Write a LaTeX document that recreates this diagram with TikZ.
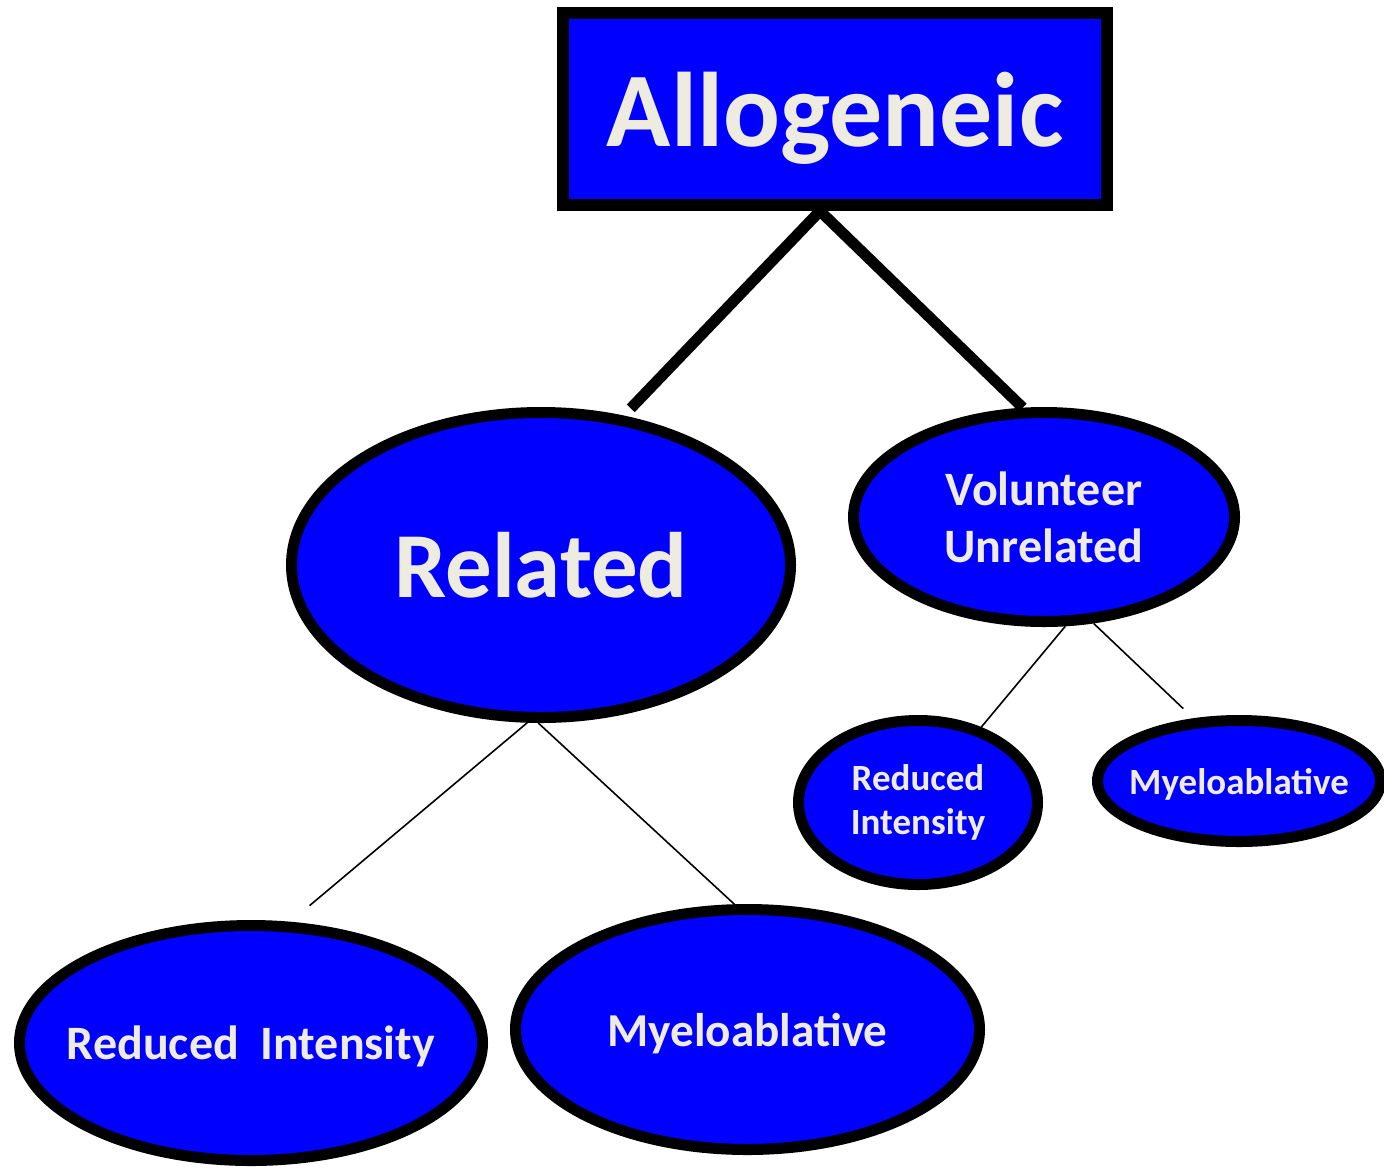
\documentclass[tikz,border=0pt]{standalone}
\usepackage{fontspec}
\setmainfont{Carlito}
\usetikzlibrary{shapes.geometric}

\definecolor{boxblue}{RGB}{0,0,255}
\definecolor{cream}{HTML}{EEECE1}

\begin{document}
\begin{tikzpicture}[x=0.5pt,y=-0.5pt,-]
    \tikzstyle{oval}=[ellipse,draw=black,fill=boxblue,line width=5.5pt,inner sep=0pt,text=cream,align=center]
    \tikzstyle{trunk}=[line width=5.5pt]
    \tikzstyle{branch}=[line width=0.8pt]

    \fill[white] (0,0) rectangle (1384,1167);
    \useasboundingbox (0,0) rectangle (1384,1167);

    \node[rectangle,draw=black,fill=boxblue,line width=6pt,minimum width=272pt,minimum height=96pt,inner sep=0pt,text depth=0pt,text=cream,font=\bfseries\fontsize{53}{60}\selectfont] (allo) at (835,109) {Allogeneic};

    \node[oval,minimum width=249.5pt,minimum height=152.5pt,font=\bfseries\fontsize{46.5}{55}\selectfont] (related) at (541,565) {Related};
    \node[oval,minimum width=190.5pt,minimum height=104.5pt,font=\bfseries\fontsize{24}{28.5}\selectfont] (volunteer) at (1044,517) {Volunteer\\Unrelated};

    \node[oval,minimum width=231.5pt,minimum height=117.5pt,inner xsep=-12pt,text depth=0pt,font=\bfseries\fontsize{24}{28.5}\selectfont] (relRI) at (251,1043) {Reduced\ \ Intensity};
    \node[oval,minimum width=232pt,minimum height=120pt,text depth=0pt,font=\bfseries\fontsize{23.6}{28}\selectfont] (relMA) at (747.5,1029.5) {Myeloablative};

    \node[oval,minimum width=119.5pt,minimum height=82pt,font=\bfseries\fontsize{18.5}{22}\selectfont] (unrRI) at (918,802.5) {Reduced\\Intensity};
    \node[oval,minimum width=141.5pt,minimum height=60.5pt,inner xsep=-6pt,text depth=0pt,font=\bfseries\fontsize{18.5}{22}\selectfont] (unrMA) at (1239,781) {Myeloablative};

    \draw[trunk,shorten >=5pt] ([xshift=-7.5pt]allo.south) -- (related.61);
    \draw[trunk] ([xshift=-7.5pt]allo.south) -- (volunteer.101);

    \foreach \from/\to/\gap in {related.265/relRI.72/12.5pt, related.269/relMA.96/0pt, volunteer.281/unrRI.50/0pt, volunteer.295/unrMA.126/7pt}
        \draw[branch,shorten >=\gap] (\from) -- (\to);
\end{tikzpicture}
\end{document}
